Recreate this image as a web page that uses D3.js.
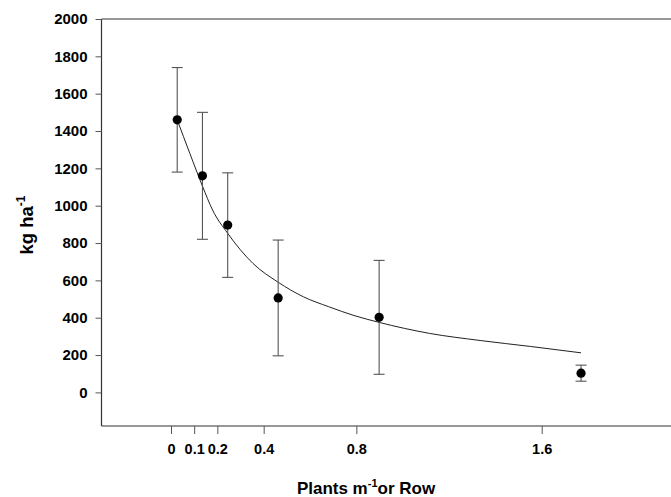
<!DOCTYPE html>
<html>
<head>
<meta charset="utf-8">
<script src="https://cdn.jsdelivr.net/npm/d3@7"></script>
<style>
  html, body { margin: 0; padding: 0; background: #fff; }
  svg { display: block; }
  text { font-family: Arial, "Liberation Sans", sans-serif; font-weight: bold; fill: #000; }
</style>
</head>
<body>
<svg id="chart" width="671" height="497"></svg>
<script>
// ---- data ----
const doseLevels   = [0, 0.1, 0.2, 0.4, 0.8, 1.6];
const yieldMeans   = [1460, 1160, 896, 506, 402, 103];
const yieldErrors  = [280, 340, 280, 310, 305, 43];
// fitted curve
const curveX = [0, 0.05, 0.1, 0.14, 0.2, 0.3, 0.4, 0.5, 0.6, 0.7, 0.8, 1.0, 1.2, 1.4, 1.6];
const curveY = [1460, 1280, 1105, 977, 852, 691, 590, 512, 459, 412, 375, 316, 278, 246, 212];
// axis ticks
const xTickValues = [0, 0.1, 0.2, 0.4, 0.8, 1.6];
const xTickLabels = ["0", "0.1", "0.2", "0.4", "0.8", "1.6"];
const yTickValues = [0, 200, 400, 600, 800, 1000, 1200, 1400, 1600, 1800, 2000];
const xTitle = ["Plants m", "-1", "or Row"];
const yTitle = ["kg ha", "-1"];

(function () {
// ---- layout ----
const svg = d3.select("#chart");
const mLeft = 101.5, mRight = 682, mTop = 19, mBottom = 426;

const x = d3.scaleLinear().domain([-0.3, 2.0]).range([mLeft, mRight]);
// tick labels in the original are placed on their own (slightly different) spacing
const xTickScale = d3.scaleLinear().domain([0, 1.6]).range([171, 541.7]);
const y = d3.scaleLinear().domain([-180, 2000]).range([mBottom, mTop]);

const axisColor = "#333";

// frame lines (left, top, bottom)
svg.append("line").attr("x1", mLeft).attr("x2", mLeft).attr("y1", mTop).attr("y2", mBottom)
  .attr("stroke", axisColor).attr("stroke-width", 1.2);
svg.append("line").attr("x1", mLeft).attr("x2", 700).attr("y1", mTop).attr("y2", mTop)
  .attr("stroke", axisColor).attr("stroke-width", 1.2);
svg.append("line").attr("x1", mLeft).attr("x2", 700).attr("y1", mBottom).attr("y2", mBottom)
  .attr("stroke", axisColor).attr("stroke-width", 1.2);

// y axis
const yAxis = d3.axisLeft(y).tickValues(yTickValues).tickSize(6).tickPadding(8).tickFormat(d3.format("d"));
const gy = svg.append("g").attr("transform", `translate(${mLeft},0)`).call(yAxis);
gy.select(".domain").remove();
gy.selectAll(".tick line").attr("stroke", "#555");
gy.selectAll(".tick text").style("font-size", "15px").style("font-family", "Arial, 'Liberation Sans', sans-serif").style("font-weight", "bold").attr("fill", "#000");

// x axis
const xAxis = d3.axisBottom(xTickScale).tickValues(xTickValues).tickSize(8).tickPadding(10)
  .tickFormat((d, i) => xTickLabels[i]);
const gx = svg.append("g").attr("transform", `translate(0,${mBottom})`).call(xAxis);
gx.select(".domain").remove();
gx.selectAll(".tick line").attr("stroke", "#555");
gx.selectAll(".tick text").style("font-size", "14.5px").style("font-family", "Arial, 'Liberation Sans', sans-serif").style("font-weight", "bold").attr("fill", "#000");

// fitted curve
const curveData = curveX.map((v, i) => ({ x: v, y: curveY[i] }));
svg.append("path").datum(curveData)
  .attr("fill", "none").attr("stroke", "#222").attr("stroke-width", 1)
  .attr("d", d3.line().x(d => x(d.x)).y(d => y(d.y)).curve(d3.curveMonotoneX));

// error bars
const pts = doseLevels.map((d, i) => ({ x: d, y: yieldMeans[i], e: yieldErrors[i] }));
const eb = svg.append("g").attr("stroke", "#555").attr("stroke-width", 1.1);
pts.forEach(p => {
  const cx = x(p.x), y1 = y(p.y + p.e), y2 = y(p.y - p.e);
  eb.append("line").attr("x1", cx).attr("x2", cx).attr("y1", y1).attr("y2", y2);
  eb.append("line").attr("x1", cx - 5.5).attr("x2", cx + 5.5).attr("y1", y1).attr("y2", y1);
  eb.append("line").attr("x1", cx - 5.5).attr("x2", cx + 5.5).attr("y1", y2).attr("y2", y2);
});

// points
svg.append("g").selectAll("circle").data(pts).join("circle")
  .attr("cx", d => x(d.x)).attr("cy", d => y(d.y)).attr("r", 4.6).attr("fill", "#000");

// x title
const xt = svg.append("text").attr("x", 366).attr("y", 494).attr("text-anchor", "middle").style("font-size", "17px");
xt.append("tspan").text(xTitle[0]);
xt.append("tspan").attr("dy", -7).style("font-size", "11px").text(xTitle[1]);
xt.append("tspan").attr("dy", 7).text(xTitle[2]);

// y title
const yt = svg.append("text").attr("transform", "translate(33,225) rotate(-90)").attr("text-anchor", "middle").style("font-size", "18.5px");
yt.append("tspan").text(yTitle[0]);
yt.append("tspan").attr("dy", -8).style("font-size", "12px").text(yTitle[1]);
})();
</script>
</body>
</html>
